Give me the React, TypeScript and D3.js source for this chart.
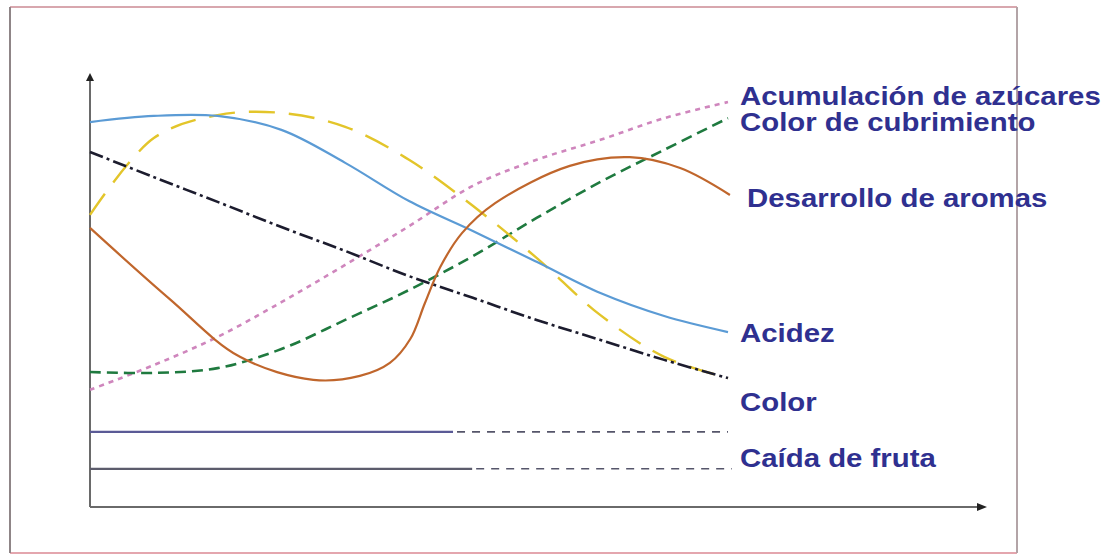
import React from "react";
import * as d3 from "d3";

// x: 0..100 ripening progress, y: 0..100 relative level
const xGrid = [0, 10, 20, 30, 40, 50, 60, 70, 80, 90, 100];

const acidez = [88.7, 90.1, 90.1, 86.9, 79.3, 70.5, 63.6, 56.5, 49.3, 44.0, 40.3];
const amarillo = [67.3, 85.0, 90.3, 90.8, 87.6, 80.0, 69.4, 57.4, 44.2, 34.6, 29.7];
const color = [81.8, 76.0, 70.3, 64.5, 59.0, 53.2, 48.2, 43.1, 38.5, 33.9, 29.7];
const azucares = [27.0, 32.7, 39.2, 47.2, 55.8, 64.7, 74.0, 80.0, 84.6, 89.6, 93.3];
const cubrimiento = [31.1, 30.9, 32.0, 36.4, 43.1, 50.0, 57.8, 66.6, 74.9, 82.3, 89.6];

const aromasX = [0, 12.5, 23.5, 35.0, 42.3, 47.0, 50.2, 52.5, 54.9, 58.3, 63.5, 75.2, 84.6, 92.5, 100.3];
const aromasY = [64.3, 47.9, 34.6, 29.3, 30.2, 33.2, 38.7, 47.0, 55.3, 63.1, 70.0, 78.6, 80.6, 78.1, 71.9];

// Caída de fruta bars: level, end of solid part, end of dashed part
const barLevels = [17.3, 8.8];
const barSolidEnd = [56.9, 59.9];
const barDashEnd = [100, 100.6];

const labels = [
  "Acumulación de azúcares",
  "Color de cubrimiento",
  "Desarrollo de aromas",
  "Acidez",
  "Color",
  "Caída de fruta",
];

const W = 1116;
const H = 555;

export default function App() {
  const x = d3.scaleLinear().domain([0, 100]).range([90, 728]);
  const y = d3.scaleLinear().domain([0, 100]).range([507, 73]);

  const line = d3
    .line<[number, number]>()
    .x((d) => x(d[0]))
    .y((d) => y(d[1]))
    .curve(d3.curveCatmullRom.alpha(0.5));

  const pts = (vals: number[], xs: number[] = xGrid) =>
    vals.map((v, i) => [xs[i], v] as [number, number]);

  const series = [
    { d: line(pts(azucares)), stroke: "#cf86bd", width: 2.6, dash: "5,5" },
    { d: line(pts(cubrimiento)), stroke: "#1f7a3f", width: 2.6, dash: "11,6" },
    { d: line(pts(amarillo)), stroke: "#e3c52a", width: 2.4, dash: "26,14" },
    { d: line(pts(color)), stroke: "#1c1c2e", width: 2.6, dash: "14,4,3,4" },
    { d: line(pts(acidez)), stroke: "#5b9bd5", width: 2.2, dash: undefined },
    { d: line(pts(aromasY, aromasX)), stroke: "#c0662c", width: 2.2, dash: undefined },
  ];

  const xAxisEnd = 987;
  const labelBase = [105, 131, 207, 342, 411, 467];
  const labelX = [740, 740, 747, 740, 740, 740];

  return (
    <svg width={W} height={H} style={{ display: "block", background: "#fff" }}>
      <style>{`body{margin:0}`}</style>
      {/* frame */}
      <line x1={10} y1={7} x2={1017} y2={7} stroke="#d8a7ae" strokeWidth={2} />
      <line x1={10} y1={553} x2={1017} y2={553} stroke="#e4a6ae" strokeWidth={2} />
      <line x1={10} y1={7} x2={10} y2={553} stroke="#8f8587" strokeWidth={2} />
      <line x1={1017} y1={7} x2={1017} y2={553} stroke="#b3a4a7" strokeWidth={2} />

      {/* axes */}
      <line x1={x(0)} y1={y(0)} x2={x(0)} y2={y(100) + 6} stroke="#6a6a6a" strokeWidth={2} />
      <path d={`M${x(0) - 4},${y(100) + 8} L${x(0)},${y(100)} L${x(0) + 4},${y(100) + 8} Z`} fill="#222" />
      <line x1={x(0)} y1={y(0)} x2={xAxisEnd - 8} y2={y(0)} stroke="#6a6a6a" strokeWidth={2} />
      <path d={`M${xAxisEnd - 10},${y(0) - 4} L${xAxisEnd},${y(0)} L${xAxisEnd - 10},${y(0) + 4} Z`} fill="#222" />

      {/* fruit drop bars */}
      {barLevels.map((lv, i) => (
        <g key={`bar-${i}`}>
          <line x1={x(0)} y1={y(lv)} x2={x(barSolidEnd[i])} y2={y(lv)} stroke={i === 0 ? "#5a5a96" : "#5c5c6c"} strokeWidth={2.2} />
          <line x1={x(barSolidEnd[i]) + 4} y1={y(lv)} x2={x(barDashEnd[i])} y2={y(lv)} stroke="#55556a" strokeWidth={1.6} strokeDasharray="8,7" />
        </g>
      ))}

      {/* curves */}
      {series.map((s, i) => (
        <path
          key={`s-${i}`}
          d={s.d ?? ""}
          fill="none"
          stroke={s.stroke}
          strokeWidth={s.width}
          strokeDasharray={s.dash}
        />
      ))}

      {/* labels */}
      {labels.map((t, i) => (
        <text
          key={`lab-${i}`}
          transform={`translate(${labelX[i]},${labelBase[i]}) scale(1.13,1)`}
          fontFamily="Liberation Sans, Arial, sans-serif"
          fontWeight="bold"
          fontSize={26}
          fill="#2f3090"
        >
          {t}
        </text>
      ))}
    </svg>
  );
}
